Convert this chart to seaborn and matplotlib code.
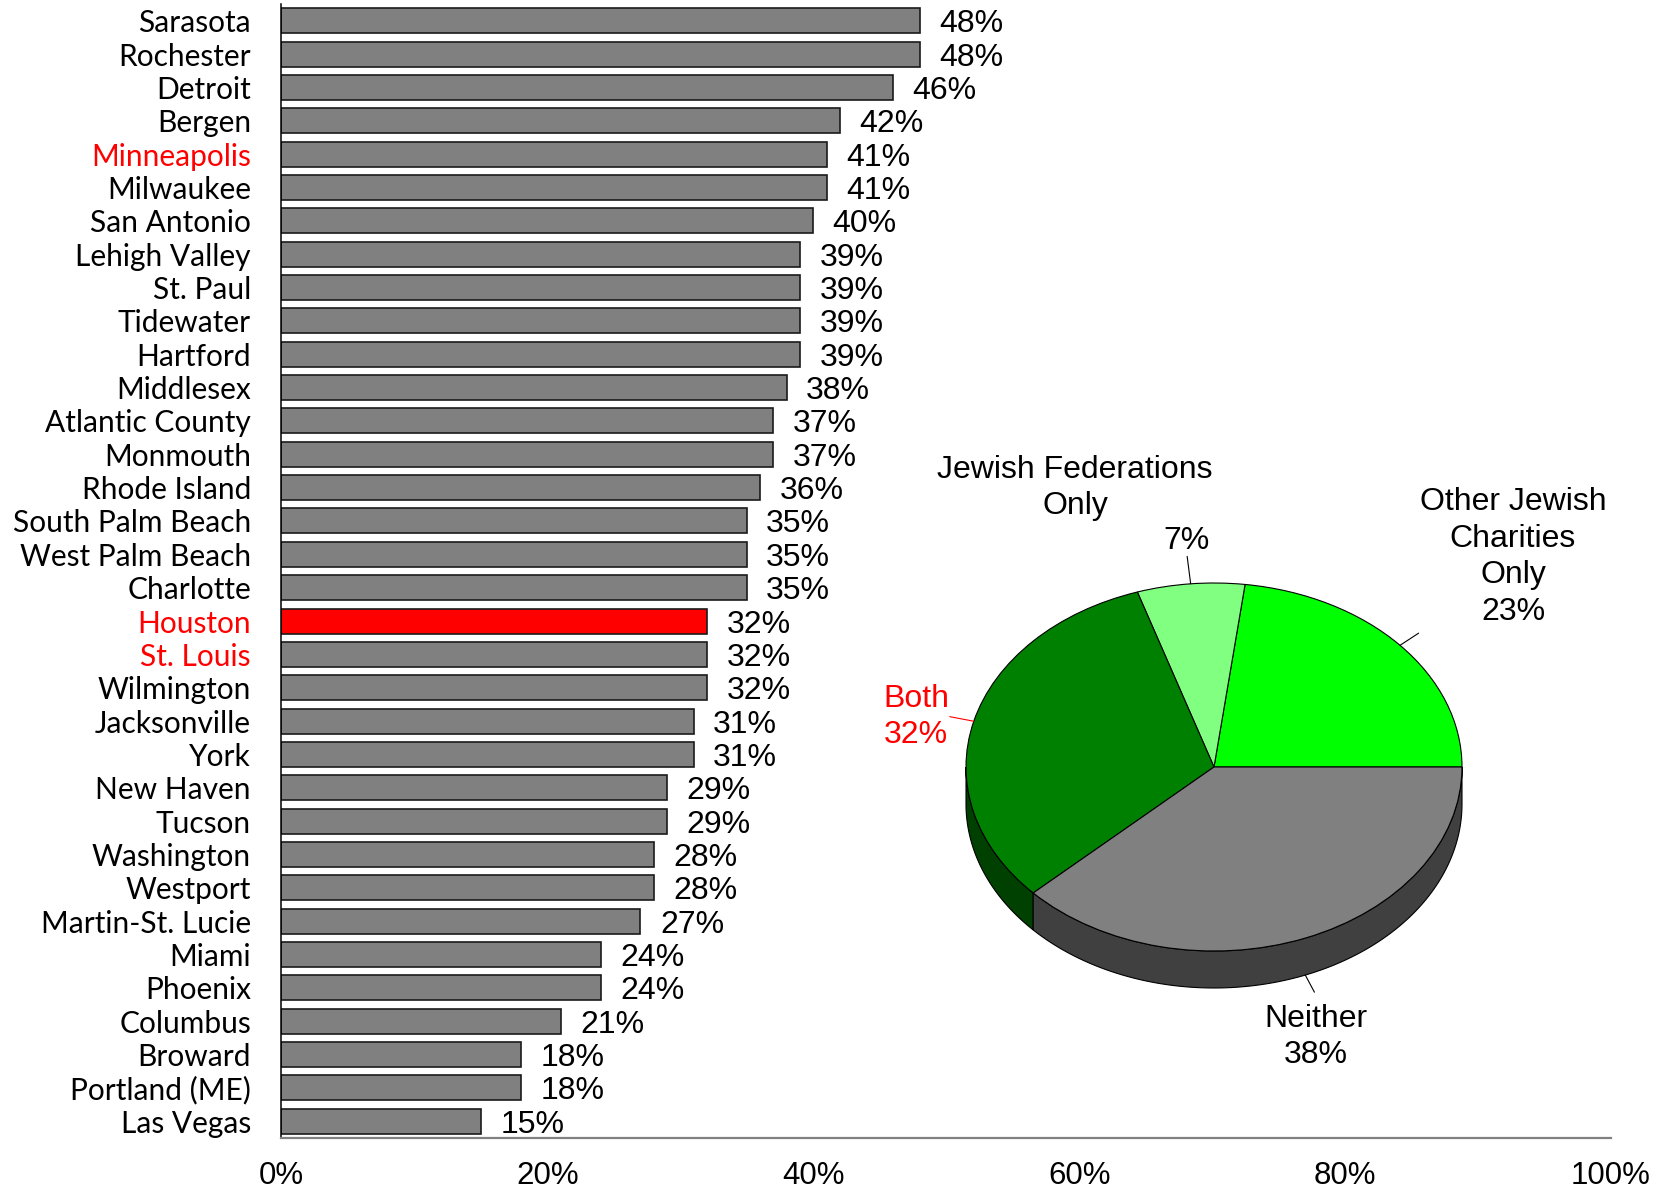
import matplotlib
matplotlib.use("Agg")
import numpy as np
import pandas as pd
import seaborn as sns
import matplotlib.pyplot as plt
from matplotlib.patches import Polygon

# ---------------- data ----------------
cities = ["Sarasota", "Rochester", "Detroit", "Bergen", "Minneapolis", "Milwaukee",
          "San Antonio", "Lehigh Valley", "St. Paul", "Tidewater", "Hartford",
          "Middlesex", "Atlantic County", "Monmouth", "Rhode Island",
          "South Palm Beach", "West Palm Beach", "Charlotte", "Houston", "St. Louis",
          "Wilmington", "Jacksonville", "York", "New Haven", "Tucson", "Washington",
          "Westport", "Martin-St. Lucie", "Miami", "Phoenix", "Columbus", "Broward",
          "Portland (ME)", "Las Vegas"]
values = [48, 48, 46, 42, 41, 41, 40, 39, 39, 39, 39, 38, 37, 37, 36, 35, 35, 35,
          32, 32, 32, 31, 31, 29, 29, 28, 28, 27, 24, 24, 21, 18, 18, 15]
red_label_cities = ["Minneapolis", "Houston", "St. Louis"]
red_bar_city = "Houston"
x_ticks = [0, 20, 40, 60, 80, 100]

pie_labels = ["Other Jewish\nCharities\nOnly", "Jewish Federations\nOnly", "Both", "Neither"]
pie_values = [23, 7, 32, 38]
pie_colors = ["#00FF00", "#80FF80", "#008000", "#808080"]
pie_side_colors = ["#008000", "#408040", "#004000", "#404040"]
pie_label_colors = ["black", "black", "#FF0000", "black"]

# ---------------- style ----------------
sns.set_theme(style="white")
plt.rcParams["font.family"] = ["Liberation Sans", "DejaVu Sans"]

W, H = 1674, 1191
fig = plt.figure(figsize=(W / 100, H / 100), dpi=100)

# bar axes (pixel layout)
ax_l, ax_r, ax_t, ax_b = 281.5, 1611.0, 4.3, 1137.7
ax = fig.add_axes([ax_l / W, 1 - ax_b / H, (ax_r - ax_l) / W, (ax_b - ax_t) / H])

df = pd.DataFrame({"city": cities, "value": values})
palette = {c: ("#FF0000" if c == red_bar_city else "#808080") for c in cities}
sns.barplot(data=df, x="value", y="city", hue="city", palette=palette, legend=False,
            orient="h", width=0.75, saturation=1, edgecolor="#1a1a1a",
            linewidth=1.2, ax=ax)

ax.set_xlim(0, 100)
ax.set_ylim(len(cities) - 0.5, -0.5)
ax.set_xticks(x_ticks)
ax.set_xticklabels([f"{t}%" for t in x_ticks])
ax.set_xlabel("")
ax.set_ylabel("")
ax.tick_params(axis="x", length=0, pad=17, labelsize=22.5, colors="black")
ax.tick_params(axis="y", length=0, pad=22)
for lbl in ax.get_yticklabels():
    lbl.set_fontfamily(["Lato", "DejaVu Sans"])
    lbl.set_fontsize(21.5)
    lbl.set_color("#FF0000" if lbl.get_text() in red_label_cities else "black")
for s in ["top", "right"]:
    ax.spines[s].set_visible(False)
ax.spines["left"].set_color("black")
ax.spines["left"].set_linewidth(1.1)
ax.spines["bottom"].set_color("#808080")
ax.spines["bottom"].set_linewidth(1.6)
ax.grid(False)

for cont in ax.containers:
    anns = ax.bar_label(cont, fmt="{:.0f}%", padding=14, fontsize=23, color="black")
    for a in anns:
        a.set_verticalalignment("center_baseline")

# ---------------- 3-D pie inset ----------------
cx, cy, rx, ry, depth_px = 1214, 767, 248, 184, 37
pl, pr, pt, pb = cx - 300, cx + 300, cy - 230, cy + 240
axp = fig.add_axes([pl / W, 1 - pb / H, (pr - pl) / W, (pb - pt) / H])
d = depth_px / ry

edges = 360 * np.concatenate([[0], np.cumsum(pie_values)]) / np.sum(pie_values)
for i in range(len(pie_values)):
    a0, a1 = max(edges[i], 180), min(edges[i + 1], 360)
    if a1 <= a0:
        continue
    t = np.radians(np.linspace(a0, a1, 120))
    top = np.column_stack([np.cos(t), np.sin(t)])
    bot = np.column_stack([np.cos(t), np.sin(t) - d])[::-1]
    axp.add_patch(Polygon(np.vstack([top, bot]), closed=True,
                          facecolor=pie_side_colors[i], edgecolor="black",
                          linewidth=0.8, zorder=1))

axp.pie(pie_values, colors=pie_colors, startangle=0, counterclock=True,
        wedgeprops=dict(edgecolor="black", linewidth=0.8, zorder=2))
axp.set_aspect("auto")
axp.set_xlim(-(cx - pl) / rx, (pr - cx) / rx)
axp.set_ylim(-(pb - cy) / ry, (cy - pt) / ry)
axp.axis("off")

# leader lines
mids = np.radians((edges[:-1] + edges[1:]) / 2)
outer = [1.1, 1.15, 1.1, 1.1]
for i, m in enumerate(mids):
    off = -d if np.sin(m) < 0 else 0
    axp.plot([np.cos(m), outer[i] * np.cos(m)],
             [np.sin(m) + off, outer[i] * np.sin(m) + off],
             color=pie_label_colors[i] if i == 2 else "black", lw=0.8)

def px2d(x, y):
    return (x - cx) / rx, (cy - y) / ry

fs = 23
ls = 1.28
# Other Jewish Charities Only
axp.text(*px2d(1513, 557), f"{pie_labels[0]}\n{pie_values[0]}%", ha="center",
         va="center", fontsize=fs, color=pie_label_colors[0], linespacing=ls)
# Jewish Federations Only
axp.text(*px2d(1075, 488), pie_labels[1], ha="center", va="center", fontsize=fs,
         color=pie_label_colors[1], linespacing=ls)
axp.text(*px2d(1187, 541), f"{pie_values[1]}%", ha="center", va="center",
         fontsize=fs, color=pie_label_colors[1])
# Both
axp.text(*px2d(916, 717), f"{pie_labels[2]}\n{pie_values[2]}%", ha="center",
         va="center", fontsize=fs, color=pie_label_colors[2], linespacing=ls)
# Neither
axp.text(*px2d(1316, 1037), f"{pie_labels[3]}\n{pie_values[3]}%", ha="center",
         va="center", fontsize=fs, color=pie_label_colors[3], linespacing=ls)

fig.savefig("out.png", dpi=100, facecolor="white")
